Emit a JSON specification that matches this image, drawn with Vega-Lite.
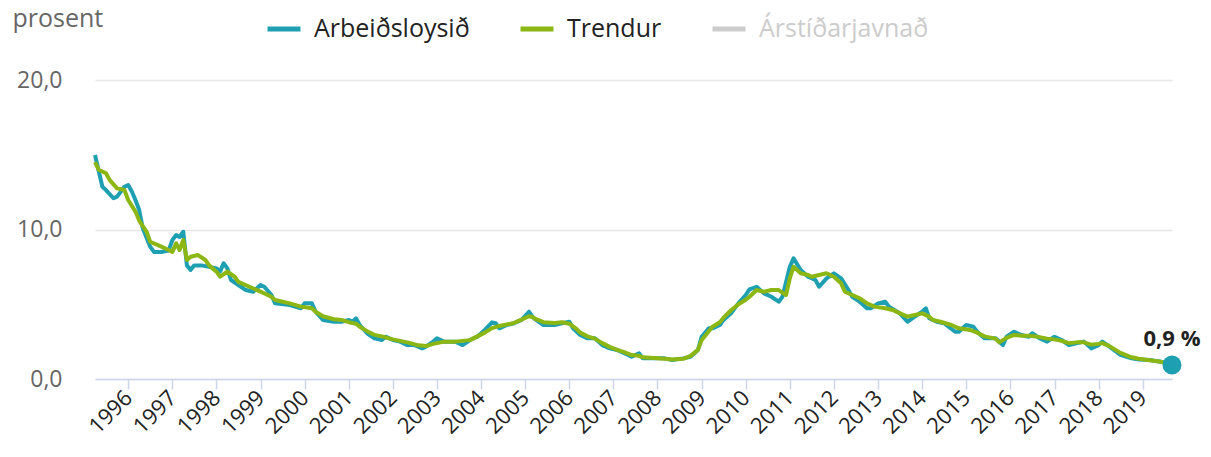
{
  "$schema": "https://vega.github.io/schema/vega-lite/v6.json",
  "width": 1077,
  "height": 299,
  "autosize": {"type": "none"},
  "padding": {"left": 95, "top": 80, "right": 39, "bottom": 78},
  "background": "white",
  "config": {"view": {"stroke": null}, "font": "Open Sans"},
  "datasets": {
    "end": [{"d": "2019-09-01", "v": 0.94, "lab": "0,9 %"}]
  },
  "data": {"values": [
    {"d":"1995-04-01","s":"Arbeiðsloysið","v":14.98},{"d":"1995-06-01","s":"Arbeiðsloysið","v":12.86},{"d":"1995-07-01","s":"Arbeiðsloysið","v":12.64},{"d":"1995-09-01","s":"Arbeiðsloysið","v":12.09},{"d":"1995-10-01","s":"Arbeiðsloysið","v":12.2},{"d":"1995-12-01","s":"Arbeiðsloysið","v":12.86},
    {"d":"1996-01-01","s":"Arbeiðsloysið","v":12.98},{"d":"1996-02-01","s":"Arbeiðsloysið","v":12.53},{"d":"1996-03-01","s":"Arbeiðsloysið","v":11.97},{"d":"1996-04-01","s":"Arbeiðsloysið","v":11.3},{"d":"1996-05-01","s":"Arbeiðsloysið","v":10.08},{"d":"1996-07-01","s":"Arbeiðsloysið","v":8.85},{"d":"1996-08-01","s":"Arbeiðsloysið","v":8.5},{"d":"1996-10-01","s":"Arbeiðsloysið","v":8.5},{"d":"1996-12-01","s":"Arbeiðsloysið","v":8.6},
    {"d":"1997-01-01","s":"Arbeiðsloysið","v":9.3},{"d":"1997-02-01","s":"Arbeiðsloysið","v":9.63},{"d":"1997-03-01","s":"Arbeiðsloysið","v":9.5},{"d":"1997-04-01","s":"Arbeiðsloysið","v":9.85},{"d":"1997-05-01","s":"Arbeiðsloysið","v":7.6},{"d":"1997-06-01","s":"Arbeiðsloysið","v":7.3},{"d":"1997-07-01","s":"Arbeiðsloysið","v":7.6},{"d":"1997-09-01","s":"Arbeiðsloysið","v":7.6},{"d":"1997-11-01","s":"Arbeiðsloysið","v":7.5},
    {"d":"1998-01-01","s":"Arbeiðsloysið","v":7.4},{"d":"1998-02-01","s":"Arbeiðsloysið","v":7.2},{"d":"1998-03-01","s":"Arbeiðsloysið","v":7.74},{"d":"1998-04-01","s":"Arbeiðsloysið","v":7.4},{"d":"1998-05-01","s":"Arbeiðsloysið","v":6.62},{"d":"1998-07-01","s":"Arbeiðsloysið","v":6.29},{"d":"1998-09-01","s":"Arbeiðsloysið","v":5.95},{"d":"1998-11-01","s":"Arbeiðsloysið","v":5.84},
    {"d":"1999-01-01","s":"Arbeiðsloysið","v":6.29},{"d":"1999-02-01","s":"Arbeiðsloysið","v":6.17},{"d":"1999-04-01","s":"Arbeiðsloysið","v":5.62},{"d":"1999-05-01","s":"Arbeiðsloysið","v":5.06},{"d":"1999-09-01","s":"Arbeiðsloysið","v":4.95},{"d":"1999-12-01","s":"Arbeiðsloysið","v":4.73},
    {"d":"2000-01-01","s":"Arbeiðsloysið","v":5.06},{"d":"2000-03-01","s":"Arbeiðsloysið","v":5.06},{"d":"2000-04-01","s":"Arbeiðsloysið","v":4.5},{"d":"2000-06-01","s":"Arbeiðsloysið","v":3.95},{"d":"2000-09-01","s":"Arbeiðsloysið","v":3.83},{"d":"2000-11-01","s":"Arbeiðsloysið","v":3.83},
    {"d":"2001-01-01","s":"Arbeiðsloysið","v":3.95},{"d":"2001-02-01","s":"Arbeiðsloysið","v":3.83},{"d":"2001-03-01","s":"Arbeiðsloysið","v":4.06},{"d":"2001-04-01","s":"Arbeiðsloysið","v":3.61},{"d":"2001-06-01","s":"Arbeiðsloysið","v":3.06},{"d":"2001-08-01","s":"Arbeiðsloysið","v":2.72},{"d":"2001-10-01","s":"Arbeiðsloysið","v":2.61},{"d":"2001-11-01","s":"Arbeiðsloysið","v":2.83},
    {"d":"2002-01-01","s":"Arbeiðsloysið","v":2.61},{"d":"2002-03-01","s":"Arbeiðsloysið","v":2.5},{"d":"2002-05-01","s":"Arbeiðsloysið","v":2.27},{"d":"2002-07-01","s":"Arbeiðsloysið","v":2.27},{"d":"2002-09-01","s":"Arbeiðsloysið","v":2.05},{"d":"2002-10-01","s":"Arbeiðsloysið","v":2.16},{"d":"2002-12-01","s":"Arbeiðsloysið","v":2.5},
    {"d":"2003-01-01","s":"Arbeiðsloysið","v":2.72},{"d":"2003-03-01","s":"Arbeiðsloysið","v":2.5},{"d":"2003-05-01","s":"Arbeiðsloysið","v":2.5},{"d":"2003-06-01","s":"Arbeiðsloysið","v":2.5},{"d":"2003-08-01","s":"Arbeiðsloysið","v":2.27},{"d":"2003-10-01","s":"Arbeiðsloysið","v":2.61},{"d":"2003-12-01","s":"Arbeiðsloysið","v":2.83},
    {"d":"2004-02-01","s":"Arbeiðsloysið","v":3.28},{"d":"2004-04-01","s":"Arbeiðsloysið","v":3.79},{"d":"2004-05-01","s":"Arbeiðsloysið","v":3.73},{"d":"2004-06-01","s":"Arbeiðsloysið","v":3.39},{"d":"2004-08-01","s":"Arbeiðsloysið","v":3.61},{"d":"2004-10-01","s":"Arbeiðsloysið","v":3.73},{"d":"2004-12-01","s":"Arbeiðsloysið","v":3.95},
    {"d":"2005-02-01","s":"Arbeiðsloysið","v":4.5},{"d":"2005-03-01","s":"Arbeiðsloysið","v":4.17},{"d":"2005-04-01","s":"Arbeiðsloysið","v":3.95},{"d":"2005-06-01","s":"Arbeiðsloysið","v":3.61},{"d":"2005-09-01","s":"Arbeiðsloysið","v":3.61},{"d":"2005-11-01","s":"Arbeiðsloysið","v":3.73},
    {"d":"2006-01-01","s":"Arbeiðsloysið","v":3.83},{"d":"2006-02-01","s":"Arbeiðsloysið","v":3.39},{"d":"2006-04-01","s":"Arbeiðsloysið","v":2.94},{"d":"2006-06-01","s":"Arbeiðsloysið","v":2.72},{"d":"2006-08-01","s":"Arbeiðsloysið","v":2.72},{"d":"2006-10-01","s":"Arbeiðsloysið","v":2.27},{"d":"2006-12-01","s":"Arbeiðsloysið","v":2.05},
    {"d":"2007-02-01","s":"Arbeiðsloysið","v":1.94},{"d":"2007-04-01","s":"Arbeiðsloysið","v":1.72},{"d":"2007-06-01","s":"Arbeiðsloysið","v":1.49},{"d":"2007-08-01","s":"Arbeiðsloysið","v":1.72},{"d":"2007-09-01","s":"Arbeiðsloysið","v":1.38},{"d":"2007-12-01","s":"Arbeiðsloysið","v":1.38},
    {"d":"2008-03-01","s":"Arbeiðsloysið","v":1.38},{"d":"2008-05-01","s":"Arbeiðsloysið","v":1.27},{"d":"2008-08-01","s":"Arbeiðsloysið","v":1.38},{"d":"2008-10-01","s":"Arbeiðsloysið","v":1.49},{"d":"2008-12-01","s":"Arbeiðsloysið","v":1.94},
    {"d":"2009-01-01","s":"Arbeiðsloysið","v":2.83},{"d":"2009-03-01","s":"Arbeiðsloysið","v":3.39},{"d":"2009-04-01","s":"Arbeiðsloysið","v":3.39},{"d":"2009-06-01","s":"Arbeiðsloysið","v":3.61},{"d":"2009-07-01","s":"Arbeiðsloysið","v":3.95},{"d":"2009-09-01","s":"Arbeiðsloysið","v":4.39},{"d":"2009-11-01","s":"Arbeiðsloysið","v":5.06},
    {"d":"2010-01-01","s":"Arbeiðsloysið","v":5.62},{"d":"2010-02-01","s":"Arbeiðsloysið","v":6.0},{"d":"2010-04-01","s":"Arbeiðsloysið","v":6.17},{"d":"2010-06-01","s":"Arbeiðsloysið","v":5.73},{"d":"2010-08-01","s":"Arbeiðsloysið","v":5.5},{"d":"2010-10-01","s":"Arbeiðsloysið","v":5.17},{"d":"2010-11-01","s":"Arbeiðsloysið","v":5.5},
    {"d":"2011-01-01","s":"Arbeiðsloysið","v":7.51},{"d":"2011-02-01","s":"Arbeiðsloysið","v":8.07},{"d":"2011-04-01","s":"Arbeiðsloysið","v":7.29},{"d":"2011-06-01","s":"Arbeiðsloysið","v":6.84},{"d":"2011-08-01","s":"Arbeiðsloysið","v":6.62},{"d":"2011-09-01","s":"Arbeiðsloysið","v":6.17},{"d":"2011-11-01","s":"Arbeiðsloysið","v":6.73},
    {"d":"2012-01-01","s":"Arbeiðsloysið","v":7.07},{"d":"2012-03-01","s":"Arbeiðsloysið","v":6.73},{"d":"2012-05-01","s":"Arbeiðsloysið","v":5.95},{"d":"2012-06-01","s":"Arbeiðsloysið","v":5.5},{"d":"2012-08-01","s":"Arbeiðsloysið","v":5.17},{"d":"2012-10-01","s":"Arbeiðsloysið","v":4.73},{"d":"2012-11-01","s":"Arbeiðsloysið","v":4.73},
    {"d":"2013-01-01","s":"Arbeiðsloysið","v":5.06},{"d":"2013-03-01","s":"Arbeiðsloysið","v":5.17},{"d":"2013-04-01","s":"Arbeiðsloysið","v":4.84},{"d":"2013-07-01","s":"Arbeiðsloysið","v":4.39},{"d":"2013-09-01","s":"Arbeiðsloysið","v":3.83},{"d":"2013-11-01","s":"Arbeiðsloysið","v":4.17},
    {"d":"2014-01-01","s":"Arbeiðsloysið","v":4.5},{"d":"2014-02-01","s":"Arbeiðsloysið","v":4.73},{"d":"2014-03-01","s":"Arbeiðsloysið","v":4.06},{"d":"2014-05-01","s":"Arbeiðsloysið","v":3.83},{"d":"2014-07-01","s":"Arbeiðsloysið","v":3.73},{"d":"2014-10-01","s":"Arbeiðsloysið","v":3.16},{"d":"2014-11-01","s":"Arbeiðsloysið","v":3.16},
    {"d":"2015-01-01","s":"Arbeiðsloysið","v":3.61},{"d":"2015-03-01","s":"Arbeiðsloysið","v":3.5},{"d":"2015-04-01","s":"Arbeiðsloysið","v":3.16},{"d":"2015-06-01","s":"Arbeiðsloysið","v":2.72},{"d":"2015-09-01","s":"Arbeiðsloysið","v":2.72},{"d":"2015-11-01","s":"Arbeiðsloysið","v":2.27},{"d":"2015-12-01","s":"Arbeiðsloysið","v":2.83},
    {"d":"2016-02-01","s":"Arbeiðsloysið","v":3.16},{"d":"2016-04-01","s":"Arbeiðsloysið","v":2.94},{"d":"2016-06-01","s":"Arbeiðsloysið","v":2.83},{"d":"2016-07-01","s":"Arbeiðsloysið","v":3.06},{"d":"2016-09-01","s":"Arbeiðsloysið","v":2.72},{"d":"2016-11-01","s":"Arbeiðsloysið","v":2.5},
    {"d":"2017-01-01","s":"Arbeiðsloysið","v":2.83},{"d":"2017-03-01","s":"Arbeiðsloysið","v":2.61},{"d":"2017-05-01","s":"Arbeiðsloysið","v":2.27},{"d":"2017-07-01","s":"Arbeiðsloysið","v":2.39},{"d":"2017-09-01","s":"Arbeiðsloysið","v":2.5},{"d":"2017-11-01","s":"Arbeiðsloysið","v":2.05},
    {"d":"2018-01-01","s":"Arbeiðsloysið","v":2.27},{"d":"2018-02-01","s":"Arbeiðsloysið","v":2.5},{"d":"2018-04-01","s":"Arbeiðsloysið","v":2.16},{"d":"2018-07-01","s":"Arbeiðsloysið","v":1.61},{"d":"2018-10-01","s":"Arbeiðsloysið","v":1.38},{"d":"2018-12-01","s":"Arbeiðsloysið","v":1.31},
    {"d":"2019-03-01","s":"Arbeiðsloysið","v":1.27},{"d":"2019-06-01","s":"Arbeiðsloysið","v":1.16},{"d":"2019-09-01","s":"Arbeiðsloysið","v":0.94},

    {"d":"1995-04-01","s":"Trendur","v":14.5},{"d":"1995-05-01","s":"Trendur","v":14.0},{"d":"1995-07-01","s":"Trendur","v":13.76},{"d":"1995-08-01","s":"Trendur","v":13.3},{"d":"1995-10-01","s":"Trendur","v":12.75},{"d":"1995-12-01","s":"Trendur","v":12.64},
    {"d":"1996-01-01","s":"Trendur","v":11.97},{"d":"1996-03-01","s":"Trendur","v":11.2},{"d":"1996-04-01","s":"Trendur","v":10.6},{"d":"1996-06-01","s":"Trendur","v":9.85},{"d":"1996-07-01","s":"Trendur","v":9.18},{"d":"1996-10-01","s":"Trendur","v":8.85},{"d":"1996-12-01","s":"Trendur","v":8.63},
    {"d":"1997-01-01","s":"Trendur","v":8.5},{"d":"1997-02-01","s":"Trendur","v":9.07},{"d":"1997-03-01","s":"Trendur","v":8.63},{"d":"1997-04-01","s":"Trendur","v":9.3},{"d":"1997-05-01","s":"Trendur","v":7.96},{"d":"1997-06-01","s":"Trendur","v":8.18},{"d":"1997-08-01","s":"Trendur","v":8.29},{"d":"1997-10-01","s":"Trendur","v":7.96},{"d":"1997-11-01","s":"Trendur","v":7.6},
    {"d":"1998-01-01","s":"Trendur","v":7.18},{"d":"1998-02-01","s":"Trendur","v":6.84},{"d":"1998-04-01","s":"Trendur","v":7.18},{"d":"1998-06-01","s":"Trendur","v":6.84},{"d":"1998-07-01","s":"Trendur","v":6.5},{"d":"1998-10-01","s":"Trendur","v":6.17},
    {"d":"1999-01-01","s":"Trendur","v":5.84},{"d":"1999-04-01","s":"Trendur","v":5.5},{"d":"1999-05-01","s":"Trendur","v":5.28},{"d":"1999-09-01","s":"Trendur","v":5.06},{"d":"1999-12-01","s":"Trendur","v":4.84},
    {"d":"2000-03-01","s":"Trendur","v":4.73},{"d":"2000-04-01","s":"Trendur","v":4.5},{"d":"2000-06-01","s":"Trendur","v":4.2},{"d":"2000-09-01","s":"Trendur","v":4.0},{"d":"2000-11-01","s":"Trendur","v":3.95},
    {"d":"2001-01-01","s":"Trendur","v":3.8},{"d":"2001-03-01","s":"Trendur","v":3.7},{"d":"2001-04-01","s":"Trendur","v":3.5},{"d":"2001-06-01","s":"Trendur","v":3.2},{"d":"2001-08-01","s":"Trendur","v":2.95},{"d":"2001-10-01","s":"Trendur","v":2.85},
    {"d":"2002-01-01","s":"Trendur","v":2.65},{"d":"2002-05-01","s":"Trendur","v":2.45},{"d":"2002-08-01","s":"Trendur","v":2.25},{"d":"2002-10-01","s":"Trendur","v":2.2},{"d":"2002-12-01","s":"Trendur","v":2.35},
    {"d":"2003-03-01","s":"Trendur","v":2.5},{"d":"2003-06-01","s":"Trendur","v":2.5},{"d":"2003-10-01","s":"Trendur","v":2.6},
    {"d":"2004-02-01","s":"Trendur","v":3.1},{"d":"2004-04-01","s":"Trendur","v":3.4},{"d":"2004-06-01","s":"Trendur","v":3.55},{"d":"2004-10-01","s":"Trendur","v":3.75},
    {"d":"2005-02-01","s":"Trendur","v":4.2},{"d":"2005-03-01","s":"Trendur","v":4.15},{"d":"2005-04-01","s":"Trendur","v":4.0},{"d":"2005-06-01","s":"Trendur","v":3.8},{"d":"2005-09-01","s":"Trendur","v":3.75},{"d":"2005-11-01","s":"Trendur","v":3.8},
    {"d":"2006-01-01","s":"Trendur","v":3.7},{"d":"2006-03-01","s":"Trendur","v":3.35},{"d":"2006-04-01","s":"Trendur","v":3.1},{"d":"2006-06-01","s":"Trendur","v":2.85},{"d":"2006-08-01","s":"Trendur","v":2.7},{"d":"2006-10-01","s":"Trendur","v":2.4},{"d":"2006-12-01","s":"Trendur","v":2.15},
    {"d":"2007-02-01","s":"Trendur","v":1.95},{"d":"2007-04-01","s":"Trendur","v":1.8},{"d":"2007-06-01","s":"Trendur","v":1.6},{"d":"2007-08-01","s":"Trendur","v":1.55},{"d":"2007-09-01","s":"Trendur","v":1.45},{"d":"2007-12-01","s":"Trendur","v":1.4},
    {"d":"2008-03-01","s":"Trendur","v":1.35},{"d":"2008-05-01","s":"Trendur","v":1.3},{"d":"2008-08-01","s":"Trendur","v":1.35},{"d":"2008-10-01","s":"Trendur","v":1.55},{"d":"2008-12-01","s":"Trendur","v":1.95},
    {"d":"2009-01-01","s":"Trendur","v":2.6},{"d":"2009-03-01","s":"Trendur","v":3.2},{"d":"2009-04-01","s":"Trendur","v":3.5},{"d":"2009-06-01","s":"Trendur","v":3.8},{"d":"2009-07-01","s":"Trendur","v":4.1},{"d":"2009-09-01","s":"Trendur","v":4.6},{"d":"2009-11-01","s":"Trendur","v":5.0},
    {"d":"2010-01-01","s":"Trendur","v":5.3},{"d":"2010-02-01","s":"Trendur","v":5.5},{"d":"2010-04-01","s":"Trendur","v":5.95},{"d":"2010-06-01","s":"Trendur","v":5.84},{"d":"2010-08-01","s":"Trendur","v":5.95},{"d":"2010-10-01","s":"Trendur","v":5.95},{"d":"2010-12-01","s":"Trendur","v":5.62},
    {"d":"2011-01-01","s":"Trendur","v":6.73},{"d":"2011-02-01","s":"Trendur","v":7.51},{"d":"2011-04-01","s":"Trendur","v":7.07},{"d":"2011-06-01","s":"Trendur","v":6.96},{"d":"2011-07-01","s":"Trendur","v":6.84},{"d":"2011-09-01","s":"Trendur","v":6.96},{"d":"2011-11-01","s":"Trendur","v":7.07},
    {"d":"2012-01-01","s":"Trendur","v":6.84},{"d":"2012-03-01","s":"Trendur","v":6.4},{"d":"2012-04-01","s":"Trendur","v":5.84},{"d":"2012-06-01","s":"Trendur","v":5.62},{"d":"2012-08-01","s":"Trendur","v":5.4},{"d":"2012-10-01","s":"Trendur","v":5.06},{"d":"2012-12-01","s":"Trendur","v":4.84},
    {"d":"2013-03-01","s":"Trendur","v":4.73},{"d":"2013-05-01","s":"Trendur","v":4.62},{"d":"2013-07-01","s":"Trendur","v":4.39},{"d":"2013-09-01","s":"Trendur","v":4.17},{"d":"2013-11-01","s":"Trendur","v":4.28},
    {"d":"2014-01-01","s":"Trendur","v":4.39},{"d":"2014-03-01","s":"Trendur","v":4.17},{"d":"2014-04-01","s":"Trendur","v":3.95},{"d":"2014-06-01","s":"Trendur","v":3.83},{"d":"2014-09-01","s":"Trendur","v":3.61},{"d":"2014-11-01","s":"Trendur","v":3.39},
    {"d":"2015-02-01","s":"Trendur","v":3.28},{"d":"2015-04-01","s":"Trendur","v":3.1},{"d":"2015-06-01","s":"Trendur","v":2.85},{"d":"2015-09-01","s":"Trendur","v":2.7},{"d":"2015-10-01","s":"Trendur","v":2.45},{"d":"2015-12-01","s":"Trendur","v":2.75},
    {"d":"2016-02-01","s":"Trendur","v":2.95},{"d":"2016-04-01","s":"Trendur","v":2.9},{"d":"2016-06-01","s":"Trendur","v":2.9},{"d":"2016-08-01","s":"Trendur","v":2.85},{"d":"2016-09-01","s":"Trendur","v":2.8},{"d":"2016-11-01","s":"Trendur","v":2.7},
    {"d":"2017-01-01","s":"Trendur","v":2.65},{"d":"2017-03-01","s":"Trendur","v":2.55},{"d":"2017-05-01","s":"Trendur","v":2.4},{"d":"2017-07-01","s":"Trendur","v":2.45},{"d":"2017-09-01","s":"Trendur","v":2.45},{"d":"2017-11-01","s":"Trendur","v":2.3},
    {"d":"2018-01-01","s":"Trendur","v":2.35},{"d":"2018-02-01","s":"Trendur","v":2.4},{"d":"2018-04-01","s":"Trendur","v":2.2},{"d":"2018-07-01","s":"Trendur","v":1.75},{"d":"2018-10-01","s":"Trendur","v":1.45},{"d":"2018-12-01","s":"Trendur","v":1.35},
    {"d":"2019-03-01","s":"Trendur","v":1.25},{"d":"2019-06-01","s":"Trendur","v":1.15},{"d":"2019-09-01","s":"Trendur","v":0.95}
  ]},
  "layer": [
    {
      "mark": {"type": "line", "strokeWidth": 4, "strokeJoin": "round"},
      "encoding": {
        "x": {
          "field": "d", "type": "temporal",
          "scale": {"domain": ["1995-04-01", "2019-09-01"], "nice": false},
          "axis": {
            "title": null, "format": "%Y",
            "tickCount": {"interval": "year", "step": 1},
            "labelAngle": -45, "labelAlign": "right", "labelBaseline": "middle",
            "labelFontSize": 22, "labelColor": "#222222", "labelPadding": 5,
            "labelOverlap": false, "labelFlush": false,
            "tickSize": 10, "tickColor": "#ccd6eb", "tickWidth": 1.5,
            "domainColor": "#ccd6eb", "domainWidth": 1.5, "grid": false
          }
        },
        "y": {
          "field": "v", "type": "quantitative",
          "scale": {"domain": [0, 20], "nice": false},
          "axis": {
            "title": "prosent", "titleAngle": 0, "titleAlign": "left", "titleBaseline": "middle",
            "titleX": -83, "titleY": -62, "titleFontSize": 25, "titleFontWeight": "normal", "titleColor": "#666666",
            "values": [0, 10, 20],
            "labelExpr": "replace(format(datum.value, '.1f'), '.', ',')",
            "labelFontSize": 23, "labelColor": "#666666", "labelPadding": 33,
            "domain": false, "ticks": false,
            "grid": true, "gridColor": "#e6e6e6", "gridWidth": 1.5
          }
        },
        "color": {
          "field": "s", "type": "nominal",
          "scale": {"domain": ["Arbeiðsloysið", "Trendur", "Árstíðarjavnað"], "range": ["#1e9fb2", "#8cb614", "#cccccc"]},
          "legend": {
            "title": null, "orient": "none", "direction": "horizontal",
            "legendX": 170, "legendY": -70,
            "symbolType": "stroke", "symbolSize": 1089, "symbolStrokeWidth": 5,
            "labelFontSize": 25, "labelColor": "#222222", "labelOffset": 11, "columnPadding": 40, "labelLimit": 400,
            "encode": {
              "labels": {"update": {"fill": {"signal": "datum.label == 'Árstíðarjavnað' ? '#cccccc' : '#222222'"}}}
            }
          }
        }
      }
    },
    {
      "data": {"name": "end"},
      "mark": {"type": "point", "filled": true, "size": 360, "color": "#1e9fb2", "opacity": 1},
      "encoding": {
        "x": {"field": "d", "type": "temporal"},
        "y": {"field": "v", "type": "quantitative"}
      }
    },
    {
      "data": {"name": "end"},
      "mark": {"type": "text", "fontSize": 22, "fontWeight": "bold", "color": "#222222", "dy": -19, "baseline": "alphabetic", "align": "center"},
      "encoding": {
        "x": {"field": "d", "type": "temporal"},
        "y": {"field": "v", "type": "quantitative"},
        "text": {"field": "lab"}
      }
    }
  ]
}
